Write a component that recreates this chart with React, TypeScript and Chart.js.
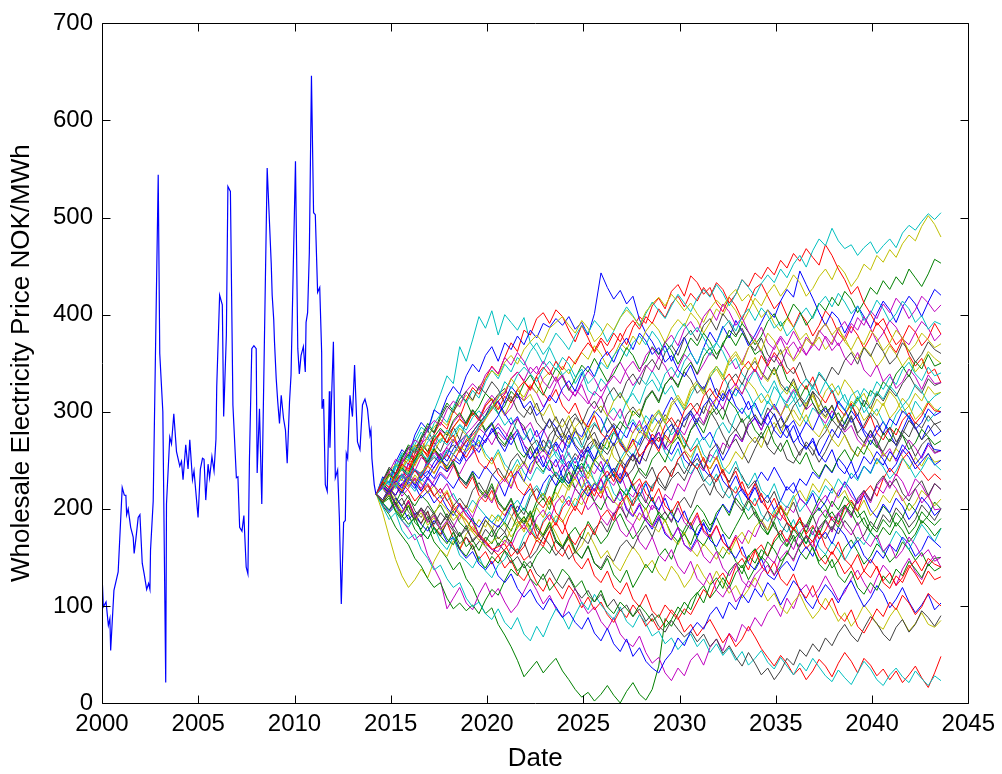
import React, { useEffect, useRef } from "react";
import { Chart, registerables } from "chart.js";

Chart.register(...registerables);

const xTicks = [2000, 2005, 2010, 2015, 2020, 2025, 2030, 2035, 2040, 2045];
const yTicks = [0, 100, 200, 300, 400, 500, 600, 700];
const xTitle = "Date";
const yTitle = "Wholesale Electricity Price NOK/MWh";

const histYears = [
  2000.0, 2000.07, 2000.21, 2000.33, 2000.41, 2000.45, 2000.62, 2000.84, 2001.05, 2001.16,
  2001.24, 2001.28, 2001.36, 2001.49, 2001.62, 2001.67, 2001.76, 2001.88, 2001.97, 2002.09,
  2002.19, 2002.32, 2002.42, 2002.49, 2002.52, 2002.66, 2002.92, 2003.0, 2003.16, 2003.31,
  2003.35, 2003.52, 2003.61, 2003.73, 2003.87, 2004.04, 2004.13, 2004.21, 2004.35, 2004.47,
  2004.56, 2004.7, 2004.78, 2004.99, 2005.11, 2005.22, 2005.3, 2005.39, 2005.51, 2005.59,
  2005.71, 2005.82, 2005.92, 2005.96, 2006.11, 2006.25, 2006.32, 2006.46, 2006.54, 2006.67,
  2006.8, 2006.98, 2007.06, 2007.15, 2007.27, 2007.37, 2007.49, 2007.58, 2007.66, 2007.78,
  2007.89, 2008.01, 2008.06, 2008.18, 2008.3, 2008.58, 2008.79, 2008.84, 2008.92, 2008.96,
  2009.05, 2009.13, 2009.22, 2009.31, 2009.43, 2009.53, 2009.62, 2009.74, 2009.82, 2010.05,
  2010.17, 2010.25, 2010.34, 2010.46, 2010.56, 2010.6, 2010.68, 2010.77, 2010.88, 2010.99,
  2011.08, 2011.2, 2011.31, 2011.41, 2011.43, 2011.51, 2011.6, 2011.7, 2011.81, 2011.84,
  2012.02, 2012.12, 2012.24, 2012.33, 2012.43, 2012.55, 2012.64, 2012.69, 2012.76, 2012.88,
  2013.01, 2013.12, 2013.27, 2013.4, 2013.53, 2013.66, 2013.79, 2013.92, 2013.97, 2014.02,
  2014.14, 2014.23,
];
const histPrices = [
  133, 99, 104, 80, 87, 54, 116, 135, 222, 214,
  214, 194, 200, 181, 171, 154, 169, 191, 194, 144,
  133, 117, 123, 117, 157, 208, 544, 360, 300, 21,
  205, 274, 267, 298, 259, 244, 249, 230, 266, 241,
  271, 230, 239, 191, 241, 252, 251, 209, 246, 232,
  254, 239, 272, 326, 420, 410, 295, 379, 532, 527,
  307, 232, 233, 181, 177, 193, 140, 133, 252, 365,
  368, 365, 237, 303, 205, 551, 453, 420, 395, 372,
  334, 310, 288, 317, 293, 281, 247, 310, 338, 558,
  365, 339, 358, 367, 341, 392, 402, 464, 646, 505,
  503, 423, 428, 361, 303, 313, 225, 218, 321, 263,
  372, 232, 240, 191, 102, 186, 188, 257, 252, 317,
  295, 348, 269, 261, 307, 313, 303, 276, 281, 252,
  225, 215,
];

const simYears = [
  2014.25, 2014.58, 2014.92, 2015.25, 2015.58, 2015.92, 2016.25, 2016.58, 2016.92, 2017.25,
  2017.58, 2017.92, 2018.25, 2018.58, 2018.92, 2019.25, 2019.58, 2019.92, 2020.25, 2020.58,
  2020.92, 2021.25, 2021.58, 2021.92, 2022.25, 2022.58, 2022.92, 2023.25, 2023.58, 2023.92,
  2024.25, 2024.58, 2024.92, 2025.25, 2025.58, 2025.92, 2026.25, 2026.58, 2026.92, 2027.25,
  2027.58, 2027.92, 2028.25, 2028.58, 2028.92, 2029.25, 2029.58, 2029.92, 2030.25, 2030.58,
  2030.92, 2031.25, 2031.58, 2031.92, 2032.25, 2032.58, 2032.92, 2033.25, 2033.58, 2033.92,
  2034.25, 2034.58, 2034.92, 2035.25, 2035.58, 2035.92, 2036.25, 2036.58, 2036.92, 2037.25,
  2037.58, 2037.92, 2038.25, 2038.58, 2038.92, 2039.25, 2039.58, 2039.92, 2040.25, 2040.58,
  2040.92, 2041.25, 2041.58, 2041.92, 2042.25, 2042.58, 2042.92, 2043.25, 2043.58,
];

const path01 = [
  215, 224, 219, 236, 229, 247, 240, 233, 251, 262, 248, 255, 271, 263, 249, 258, 276, 268, 283, 270,
  259, 274, 281, 266, 252, 261, 279, 292, 284, 270, 263, 280, 274, 289, 301, 293, 278, 286, 270, 259,
  272, 266, 283, 297, 288, 302, 315, 304, 291, 298, 284, 271, 279, 265, 250, 262, 277, 269, 286, 294,
  281, 297, 308, 296, 283, 291, 276, 262, 270, 255, 268, 282, 273, 289, 301, 292, 278, 266, 279, 290,
  277, 265, 281, 296, 284, 271, 286, 275, 280,
];
const path02 = [
  215, 206, 211, 197, 188, 194, 179, 171, 182, 166, 158, 149, 137, 145, 128, 119, 104, 92, 98, 81,
  70, 58, 44, 27, 35, 43, 31, 39, 46, 33, 24, 14, 6, 11, 2, 9, 18, 8, 0, 12,
  21, 9, 3, 14, 38, 87, 79, 92, 104, 96, 113, 121, 108, 117, 129, 118, 134, 142, 127, 139,
  151, 144, 132, 141, 155, 148, 162, 171, 159, 146, 153, 139, 147, 160, 168, 156, 143, 151, 164, 157,
  145, 152, 166, 158, 147, 155, 141, 149, 150,
];
const path03 = [
  215, 229, 238, 231, 252, 246, 263, 271, 258, 277, 289, 282, 301, 294, 312, 325, 318, 334, 347, 339,
  356, 371, 362, 384, 379, 396, 402, 391, 405, 398, 384, 372, 389, 376, 361, 373, 358, 366, 381, 369,
  387, 398, 391, 409, 417, 406, 424, 431, 419, 440, 433, 421, 428, 412, 403, 418, 409, 395, 411, 427,
  432, 419, 406, 414, 399, 387, 402, 393, 378, 389, 404, 396, 381, 373, 388, 379, 365, 377, 392, 384,
  370, 361, 375, 389, 382, 368, 376, 391, 380,
];
const path04 = [
  215, 231, 226, 244, 258, 252, 271, 284, 279, 301, 318, 337, 329, 367, 352, 374, 398, 386, 404, 379,
  400, 392, 384, 397, 371, 362, 349, 366, 352, 338, 344, 329, 341, 322, 317, 334, 326, 311, 320, 308,
  323, 336, 328, 342, 331, 318, 327, 312, 301, 316, 329, 321, 335, 347, 338, 324, 316, 330, 319, 305,
  296, 311, 302, 318, 326, 313, 299, 288, 304, 297, 283, 295, 309, 301, 317, 322, 308, 294, 303, 289,
  281, 297, 306, 293, 311, 302, 290, 298, 305,
];
const path05 = [
  215, 204, 196, 207, 188, 179, 168, 174, 152, 139, 126, 97, 108, 119, 103, 96, 112, 124, 109, 118,
  104, 93, 101, 115, 128, 116, 102, 111, 97, 88, 106, 118, 103, 92, 99, 84, 76, 88, 71, 63,
  58, 69, 52, 41, 47, 31, 23, 36, 28, 44, 51, 39, 57, 66, 54, 72, 63, 81, 74, 88,
  79, 93, 101, 89, 108, 97, 115, 122, 109, 118, 131, 119, 106, 114, 128, 137, 124, 113, 129, 142,
  134, 121, 138, 149, 135, 127, 144, 152, 140,
];
const path06 = [
  215, 196, 171, 148, 131, 119, 127, 138, 129, 146, 158, 151, 167, 159, 174, 182, 171, 189, 178, 193,
  184, 171, 180, 192, 179, 166, 174, 187, 175, 161, 169, 154, 162, 176, 163, 149, 157, 143, 136, 149,
  161, 152, 139, 147, 134, 126, 141, 132, 119, 128, 143, 131, 122, 136, 124, 113, 121, 108, 117, 129,
  118, 105, 113, 99, 92, 104, 112, 98, 87, 95, 108, 97, 84, 93, 79, 88, 101, 92, 81, 76,
  89, 98, 86, 74, 82, 93, 81, 78, 85,
];
const path07 = [
  215, 227, 241, 236, 254, 263, 249, 272, 281, 268, 259, 275, 284, 271, 290, 302, 293, 279, 288, 270,
  264, 277, 292, 285, 268, 256, 271, 262, 280, 293, 281, 266, 258, 273, 287, 279, 294, 283, 268, 257,
  249, 263, 276, 268, 284, 297, 289, 274, 262, 281, 293, 286, 301, 290, 276, 264, 272, 259, 247, 262,
  275, 266, 283, 294, 281, 268, 255, 269, 261, 248, 259, 273, 285, 276, 262, 254, 267, 281, 270, 257,
  249, 263, 276, 268, 254, 266, 273, 258, 260,
];
const path08 = [
  215, 233, 227, 248, 261, 254, 276, 289, 281, 302, 297, 315, 326, 318, 337, 349, 341, 358, 367, 352,
  371, 364, 378, 369, 384, 376, 391, 387, 396, 389, 398, 385, 392, 379, 401, 443, 428, 416, 425, 411,
  419, 395, 381, 372, 359, 368, 352, 365, 377, 361, 349, 366, 382, 371, 388, 376, 394, 383, 368, 379,
  392, 405, 397, 414, 426, 418, 445, 431, 417, 402, 389, 403, 396, 381, 394, 409, 398, 386, 401, 414,
  405, 392, 408, 419, 411, 398, 413, 426, 420,
];
const path09 = [
  215, 203, 194, 181, 172, 163, 149, 141, 128, 119, 124, 108, 97, 103, 95, 101, 92, 106, 117, 111,
  126, 138, 131, 146, 139, 152, 161, 154, 168, 159, 173, 181, 169, 187, 176, 164, 172, 186, 195, 181,
  169, 178, 191, 183, 197, 188, 174, 166, 179, 192, 204, 196, 183, 191, 177, 169, 182, 194, 208, 199,
  186, 174, 188, 201, 192, 179, 170, 183, 197, 211, 203, 189, 181, 194, 207, 198, 184, 176, 190, 203,
  195, 182, 191, 206, 198, 185, 193, 207, 200,
];
const path10 = [
  215, 207, 218, 204, 196, 209, 193, 185, 197, 181, 174, 186, 169, 158, 171, 162, 148, 156, 143, 152,
  139, 147, 133, 126, 138, 124, 115, 129, 118, 107, 121, 112, 98, 109, 96, 104, 91, 83, 96, 88,
  101, 92, 79, 87, 75, 84, 96, 88, 73, 81, 69, 78, 86, 74, 62, 71, 58, 66, 79, 68,
  56, 47, 38, 49, 41, 29, 36, 24, 33, 45, 38, 27, 41, 52, 43, 31, 46, 39, 28, 35,
  24, 33, 21, 29, 38, 26, 16, 31, 48,
];
const path11 = [
  215, 202, 189, 196, 178, 169, 174, 158, 149, 137, 142, 128, 119, 124, 108, 99, 104, 92, 86, 97,
  83, 76, 88, 71, 64, 79, 68, 84, 97, 89, 76, 91, 104, 96, 112, 101, 93, 86, 99, 84,
  78, 91, 82, 69, 74, 61, 67, 55, 63, 71, 58, 66, 52, 61, 49, 57, 44, 53, 39, 46,
  54, 42, 35, 47, 38, 29, 41, 33, 46, 37, 28, 22, 34, 26, 19, 31, 43, 35, 24, 18,
  29, 36, 27, 21, 33, 25, 18, 28, 23,
];
const path12 = [
  215, 226, 237, 231, 249, 258, 252, 267, 274, 263, 281, 276, 289, 297, 286, 301, 293, 308, 317, 309,
  296, 304, 318, 311, 326, 319, 305, 314, 329, 337, 325, 316, 331, 342, 334, 321, 329, 344, 351, 339,
  327, 336, 348, 341, 356, 347, 333, 345, 359, 352, 338, 349, 361, 355, 369, 358, 344, 351, 366, 374,
  361, 352, 367, 378, 369, 383, 371, 359, 368, 382, 391, 379, 368, 377, 391, 384, 398, 386, 372, 381,
  394, 387, 375, 369, 382, 393, 386, 373, 380,
];
const path13 = [
  215, 224, 236, 229, 243, 238, 252, 261, 255, 269, 277, 268, 284, 292, 286, 299, 291, 306, 314, 305,
  297, 311, 322, 315, 328, 319, 334, 341, 332, 347, 339, 352, 361, 354, 368, 359, 346, 357, 371, 364,
  378, 369, 383, 392, 384, 371, 386, 395, 388, 402, 394, 381, 392, 406, 399, 413, 404, 391, 403, 417,
  409, 422, 431, 419, 428, 441, 433, 419, 427, 439, 447, 436, 451, 443, 429, 438, 452, 446, 461, 454,
  467, 459, 473, 482, 476, 491, 502, 493, 480,
];
const path14 = [
  215, 209, 221, 212, 203, 214, 198, 191, 203, 194, 183, 195, 184, 172, 179, 168, 174, 161, 153, 165,
  156, 144, 151, 139, 146, 133, 127, 138, 126, 118, 129, 117, 108, 116, 104, 112, 99, 107, 95, 101,
  89, 97, 84, 92, 79, 73, 85, 76, 68, 74, 63, 71, 58, 66, 51, 59, 47, 38, 52, 41,
  29, 36, 24, 33, 46, 39, 55, 48, 61, 53, 67, 59, 72, 81, 70, 63, 77, 89, 82, 71,
  64, 78, 86, 73, 81, 95, 88, 79, 90,
];
const path15 = [
  215, 206, 198, 211, 202, 189, 196, 184, 177, 188, 179, 166, 171, 158, 149, 156, 143, 137, 146, 131,
  124, 133, 118, 109, 117, 104, 96, 108, 99, 88, 94, 83, 76, 88, 72, 64, 77, 61, 53, 66,
  48, 57, 43, 36, 31, 44, 52, 67, 59, 74, 83, 76, 91, 99, 87, 104, 96, 112, 103, 118,
  109, 124, 116, 101, 113, 126, 118, 105, 97, 111, 122, 114, 103, 117, 126, 112, 99, 108, 121, 113,
  98, 107, 119, 104, 93, 101, 112, 96, 103,
];
const path16 = [
  215, 228, 241, 236, 253, 266, 259, 274, 288, 279, 296, 309, 301, 318, 311, 296, 305, 319, 312, 298,
  306, 321, 314, 329, 338, 326, 317, 331, 345, 336, 322, 334, 348, 341, 355, 343, 331, 339, 352, 366,
  358, 344, 352, 367, 359, 372, 363, 349, 361, 376, 368, 381, 372, 359, 368, 384, 377, 391, 382, 369,
  378, 393, 401, 388, 396, 411, 403, 389, 398, 412, 404, 418, 409, 424, 416, 402, 413, 428, 421, 435,
  426, 439, 431, 447, 438, 429, 442, 457, 453,
];
const path17 = [
  215, 222, 235, 229, 246, 241, 257, 264, 253, 270, 278, 268, 284, 293, 285, 299, 291, 306, 313, 302,
  316, 309, 323, 331, 322, 337, 346, 338, 352, 343, 357, 349, 362, 371, 363, 376, 368, 381, 372, 386,
  394, 385, 398, 391, 406, 397, 411, 419, 408, 422, 414, 428, 419, 433, 426, 412, 421, 436, 429, 443,
  437, 449, 441, 456, 448, 463, 455, 468, 459, 451, 472, 461, 447, 436, 421, 429, 412, 401, 389, 396,
  381, 369, 376, 358, 347, 355, 339, 344, 330,
];
const path18 = [
  215, 231, 224, 242, 256, 249, 266, 279, 271, 288, 297, 289, 305, 318, 309, 322, 314, 331, 343, 334,
  349, 341, 356, 348, 362, 371, 359, 368, 381, 373, 364, 378, 389, 381, 394, 386, 372, 383, 397, 408,
  399, 388, 401, 413, 404, 396, 409, 421, 412, 403, 417, 426, 418, 431, 422, 409, 421, 436, 428, 419,
  432, 441, 433, 447, 438, 452, 461, 449, 466, 478, 471, 489, 476, 468, 472, 461, 469, 475, 463, 471,
  478, 469, 484, 492, 487, 496, 504, 498, 505,
];
const path19 = [
  215, 209, 218, 224, 213, 221, 232, 226, 217, 229, 238, 231, 244, 236, 249, 257, 263, 271, 279, 288,
  279, 271, 282, 266, 259, 247, 255, 241, 233, 246, 229, 221, 234, 216, 208, 219, 201, 194, 207, 189,
  183, 196, 188, 204, 197, 215, 209, 226, 218, 234, 247, 239, 256, 251, 268, 262, 277, 269, 286, 293,
  281, 298, 306, 295, 311, 323, 314, 302, 309, 296, 288, 301, 292, 279, 286, 271, 264, 277, 268, 254,
  262, 249, 258, 271, 263, 252, 266, 257, 260,
];
const path20 = [
  215, 227, 238, 246, 241, 258, 266, 259, 275, 284, 292, 286, 301, 309, 317, 311, 326, 334, 342, 337,
  351, 358, 349, 364, 372, 379, 371, 386, 392, 398, 389, 381, 394, 386, 372, 379, 391, 384, 397, 405,
  398, 389, 403, 411, 418, 409, 421, 413, 404, 412, 401, 392, 406, 415, 408, 419, 426, 414, 421, 409,
  397, 405, 391, 383, 396, 387, 374, 381, 368, 377, 364, 372, 385, 376, 363, 354, 367, 359, 346, 355,
  368, 359, 347, 356, 341, 349, 362, 355, 350,
];
const path21 = [
  215, 208, 219, 203, 196, 207, 191, 185, 198, 179, 172, 186, 177, 164, 171, 158, 166, 179, 171, 183,
  176, 191, 203, 194, 212, 221, 209, 227, 238, 229, 246, 257, 249, 266, 272, 261, 279, 288, 281, 297,
  305, 296, 314, 322, 311, 328, 336, 327, 341, 333, 319, 326, 309, 297, 305, 289, 281, 293, 276, 268,
  279, 263, 256, 268, 251, 247, 259, 266, 255, 271, 279, 292, 284, 298, 307, 296, 312, 303, 319, 311,
  324, 316, 329, 338, 326, 319, 334, 327, 330,
];
const path22 = [
  215, 221, 212, 226, 219, 233, 241, 229, 236, 248, 257, 249, 262, 271, 264, 279, 288, 296, 305, 311,
  298, 287, 295, 278, 269, 281, 263, 256, 267, 249, 241, 253, 236, 228, 219, 231, 214, 206, 218, 199,
  192, 204, 188, 179, 191, 174, 168, 181, 163, 158, 171, 184, 176, 192, 205, 196, 213, 221, 209, 226,
  238, 229, 243, 231, 219, 227, 211, 204, 216, 198, 207, 221, 213, 228, 219, 206, 214, 199, 191, 205,
  196, 211, 203, 189, 198, 212, 204, 193, 200,
];
const path23 = [
  215, 222, 214, 206, 219, 211, 203, 214, 207, 196, 204, 191, 198, 186, 179, 191, 172, 166, 178, 162,
  172, 166, 184, 192, 181, 203, 211, 199, 222, 234, 226, 245, 238, 256, 249, 268, 261, 279, 290, 282,
  301, 294, 312, 321, 309, 328, 336, 325, 343, 351, 339, 357, 366, 354, 371, 379, 368, 381, 372, 359,
  364, 347, 338, 351, 333, 326, 314, 327, 309, 298, 306, 291, 299, 287, 302, 314, 305, 322, 316, 331,
  324, 339, 347, 336, 352, 344, 359, 347, 350,
];
const path24 = [
  215, 224, 218, 233, 241, 229, 247, 256, 244, 261, 252, 238, 246, 229, 221, 233, 214, 207, 219, 201,
  193, 205, 188, 179, 191, 172, 164, 177, 158, 151, 163, 146, 138, 149, 131, 124, 136, 119, 112, 124,
  107, 99, 112, 95, 88, 101, 93, 86, 97, 91, 104, 117, 109, 126, 134, 122, 141, 149, 137, 156,
  163, 151, 169, 178, 166, 181, 172, 159, 167, 151, 143, 156, 146, 133, 141, 127, 136, 148, 139, 126,
  134, 121, 129, 142, 133, 122, 136, 127, 130,
];
const path25 = [
  215, 207, 196, 203, 188, 181, 192, 176, 169, 181, 166, 158, 171, 152, 146, 139, 151, 136, 129, 142,
  148, 161, 155, 172, 181, 169, 188, 197, 186, 204, 213, 202, 221, 229, 218, 236, 245, 233, 251, 262,
  254, 271, 279, 266, 274, 258, 249, 262, 243, 236, 247, 231, 224, 236, 219, 211, 223, 206, 198, 211,
  194, 187, 199, 183, 176, 189, 171, 164, 177, 160, 153, 166, 158, 147, 159, 171, 163, 176, 168, 155,
  164, 177, 169, 158, 171, 184, 175, 166, 180,
];
const path26 = [
  215, 228, 221, 237, 232, 246, 239, 253, 247, 258, 251, 264, 272, 261, 276, 268, 283, 277, 266, 279,
  271, 286, 293, 281, 289, 274, 282, 268, 259, 271, 255, 247, 261, 243, 236, 249, 231, 224, 237, 219,
  212, 226, 208, 199, 213, 196, 188, 201, 186, 179, 193, 176, 169, 182, 166, 159, 173, 164, 178, 171,
  186, 178, 194, 188, 203, 196, 211, 204, 193, 206, 214, 202, 218, 226, 213, 205, 219, 209, 223, 216,
  229, 221, 208, 216, 231, 224, 212, 226, 220,
];
const path27 = [
  215, 206, 218, 209, 197, 204, 191, 199, 186, 194, 207, 199, 188, 196, 183, 176, 189, 181, 194, 187,
  201, 193, 181, 189, 176, 184, 172, 181, 193, 186, 199, 211, 204, 219, 227, 216, 233, 241, 229, 247,
  256, 248, 263, 271, 262, 279, 287, 276, 294, 301, 289, 306, 298, 314, 322, 311, 326, 319, 331, 323,
  309, 318, 304, 296, 308, 293, 285, 297, 281, 274, 287, 272, 264, 276, 261, 254, 267, 259, 246, 258,
  249, 262, 254, 241, 253, 244, 257, 248, 250,
];
const path28 = [
  215, 223, 216, 229, 236, 228, 241, 234, 246, 253, 247, 259, 266, 258, 271, 279, 288, 296, 309, 318,
  324, 311, 319, 304, 297, 309, 291, 283, 295, 279, 271, 283, 266, 258, 271, 253, 246, 238, 251, 233,
  241, 256, 249, 266, 274, 263, 281, 292, 284, 301, 309, 298, 316, 324, 313, 331, 339, 328, 344, 352,
  341, 333, 346, 329, 321, 334, 316, 308, 321, 303, 295, 307, 289, 281, 294, 276, 268, 281, 264, 259,
  272, 266, 281, 274, 289, 283, 296, 287, 290,
];
const path29 = [
  215, 221, 213, 227, 219, 232, 224, 211, 218, 206, 214, 201, 193, 205, 197, 188, 181, 192, 186, 181,
  191, 204, 197, 213, 221, 209, 226, 235, 224, 241, 249, 238, 256, 264, 251, 268, 276, 265, 281, 273,
  289, 278, 286, 271, 279, 264, 256, 269, 251, 244, 257, 241, 233, 246, 229, 221, 234, 218, 209, 222,
  206, 214, 199, 208, 223, 216, 231, 224, 238, 231, 245, 237, 252, 244, 231, 239, 254, 246, 259, 251,
  238, 246, 261, 253, 241, 249, 257, 245, 250,
];
const path30 = [
  215, 224, 236, 229, 247, 256, 248, 266, 259, 274, 283, 276, 291, 299, 288, 302, 294, 281, 289, 274,
  266, 279, 261, 253, 264, 247, 238, 251, 233, 226, 238, 221, 212, 224, 207, 199, 213, 206, 221, 214,
  229, 242, 234, 251, 259, 248, 266, 274, 263, 281, 289, 278, 296, 304, 292, 311, 303, 289, 296, 281,
  273, 286, 268, 259, 271, 254, 246, 258, 241, 233, 246, 238, 252, 261, 249, 264, 256, 271, 263, 278,
  269, 283, 276, 261, 268, 282, 274, 266, 270,
];
const path31 = [
  215, 223, 217, 228, 236, 224, 231, 219, 226, 214, 206, 217, 201, 194, 188, 179, 171, 166, 158, 161,
  164, 151, 159, 147, 153, 168, 161, 177, 186, 174, 192, 203, 194, 212, 221, 211, 229, 238, 227, 244,
  256, 246, 263, 271, 259, 276, 268, 281, 272, 259, 266, 249, 241, 253, 236, 228, 239, 221, 214, 226,
  208, 199, 211, 194, 186, 179, 191, 174, 183, 169, 178, 192, 184, 201, 209, 198, 216, 224, 213, 231,
  242, 234, 251, 259, 246, 238, 229, 236, 230,
];
const path32 = [
  215, 226, 233, 245, 239, 252, 263, 257, 269, 276, 268, 281, 274, 286, 278, 265, 271, 257, 249, 261,
  246, 239, 251, 237, 229, 243, 236, 251, 259, 248, 266, 274, 263, 281, 289, 278, 296, 304, 293, 311,
  319, 308, 326, 333, 321, 339, 346, 335, 352, 361, 349, 366, 358, 371, 362, 348, 355, 339, 331, 344,
  328, 319, 332, 316, 309, 321, 305, 313, 326, 317, 331, 322, 309, 318, 302, 311, 324, 316, 331, 323,
  336, 328, 343, 351, 339, 332, 346, 337, 340,
];
const path33 = [
  215, 229, 238, 251, 246, 262, 271, 266, 283, 291, 286, 302, 311, 305, 321, 329, 322, 338, 346, 339,
  356, 348, 361, 352, 339, 347, 331, 324, 336, 319, 311, 323, 316, 308, 321, 314, 328, 337, 329, 344,
  352, 341, 358, 366, 355, 371, 379, 368, 385, 393, 382, 398, 406, 394, 411, 403, 389, 397, 382, 374,
  387, 371, 364, 376, 361, 354, 367, 358, 371, 363, 378, 369, 385, 393, 381, 397, 389, 404, 396, 411,
  402, 417, 409, 396, 405, 419, 412, 403, 410,
];
const path34 = [
  215, 206, 214, 199, 192, 204, 188, 196, 183, 191, 178, 186, 197, 189, 204, 196, 211, 219, 208, 226,
  234, 223, 241, 249, 238, 256, 264, 253, 271, 278, 267, 284, 292, 281, 299, 306, 295, 311, 319, 308,
  296, 303, 288, 279, 291, 273, 266, 279, 261, 253, 266, 249, 241, 254, 238, 246, 259, 251, 266, 274,
  263, 281, 289, 277, 294, 302, 291, 308, 316, 305, 321, 329, 317, 333, 324, 311, 319, 304, 296, 309,
  293, 301, 314, 306, 292, 299, 311, 303, 300,
];
const path35 = [
  215, 226, 219, 234, 241, 233, 249, 256, 247, 262, 253, 241, 247, 232, 224, 236, 219, 211, 223, 206,
  198, 209, 192, 184, 196, 178, 171, 183, 166, 159, 171, 156, 149, 161, 144, 139, 152, 146, 161, 168,
  159, 174, 183, 171, 189, 197, 186, 204, 212, 201, 219, 226, 214, 231, 239, 227, 243, 234, 221, 229,
  213, 206, 218, 201, 194, 207, 189, 181, 193, 176, 169, 182, 174, 188, 179, 166, 173, 187, 179, 194,
  186, 201, 193, 181, 189, 204, 196, 188, 200,
];
const path36 = [
  215, 209, 217, 224, 216, 228, 221, 233, 239, 231, 244, 238, 251, 246, 259, 266, 258, 271, 279, 284,
  274, 266, 278, 259, 251, 263, 246, 239, 251, 233, 226, 238, 221, 213, 226, 219, 234, 242, 231, 248,
  257, 246, 264, 273, 262, 279, 287, 276, 293, 301, 289, 306, 314, 303, 319, 311, 324, 316, 302, 309,
  294, 286, 298, 281, 273, 286, 268, 261, 273, 256, 248, 261, 243, 236, 249, 231, 244, 237, 252, 245,
  259, 251, 266, 258, 246, 254, 268, 261, 260,
];
const path37 = [
  215, 206, 214, 198, 191, 203, 186, 179, 192, 174, 182, 169, 163, 176, 161, 168, 157, 171, 164, 178,
  186, 177, 193, 201, 191, 208, 216, 205, 223, 231, 222, 239, 247, 236, 251, 243, 229, 236, 221, 213,
  226, 208, 199, 212, 194, 187, 199, 181, 174, 186, 169, 162, 174, 157, 149, 161, 146, 139, 152, 144,
  158, 151, 166, 174, 162, 179, 187, 176, 193, 201, 191, 208, 199, 213, 204, 191, 198, 183, 176, 189,
  181, 196, 188, 174, 182, 197, 189, 183, 190,
];
const path38 = [
  215, 208, 219, 226, 218, 231, 239, 232, 244, 237, 249, 256, 248, 261, 269, 276, 284, 293, 302, 311,
  318, 334, 341, 331, 324, 336, 319, 311, 323, 306, 298, 309, 292, 284, 296, 278, 271, 283, 266, 258,
  271, 254, 262, 277, 269, 286, 294, 283, 301, 309, 298, 316, 324, 313, 331, 339, 327, 344, 352, 341,
  358, 347, 361, 352, 339, 346, 331, 323, 336, 318, 309, 322, 304, 296, 309, 291, 283, 296, 278, 271,
  284, 276, 291, 299, 288, 296, 309, 301, 300,
];
const path39 = [
  215, 222, 229, 221, 234, 226, 218, 231, 224, 213, 221, 208, 216, 203, 197, 209, 201, 193, 186, 194,
  186, 201, 209, 198, 216, 224, 213, 231, 238, 227, 244, 252, 241, 258, 266, 255, 271, 279, 268, 284,
  292, 281, 296, 288, 301, 289, 276, 284, 268, 261, 273, 256, 248, 261, 243, 236, 249, 231, 224, 237,
  219, 212, 226, 208, 201, 214, 197, 206, 219, 211, 224, 216, 231, 222, 237, 229, 244, 236, 251, 243,
  231, 239, 252, 244, 232, 241, 253, 246, 240,
];
const path40 = [
  215, 222, 214, 227, 235, 228, 241, 236, 248, 242, 255, 263, 256, 269, 277, 284, 292, 301, 309, 316,
  319, 334, 341, 332, 346, 339, 352, 343, 331, 338, 323, 316, 328, 311, 303, 316, 298, 291, 303, 286,
  278, 291, 273, 266, 279, 261, 269, 284, 276, 291, 299, 288, 306, 314, 303, 321, 329, 318, 336, 344,
  333, 351, 358, 347, 364, 372, 361, 377, 369, 384, 376, 363, 371, 356, 348, 361, 343, 336, 348, 331,
  339, 324, 331, 344, 336, 323, 338, 329, 330,
];
const path41 = [
  215, 221, 213, 224, 231, 222, 235, 227, 216, 224, 211, 219, 204, 196, 189, 176, 168, 161, 166, 171,
  164, 179, 187, 176, 194, 201, 191, 209, 217, 206, 224, 231, 221, 238, 229, 216, 223, 208, 201, 213,
  196, 188, 201, 183, 176, 189, 171, 163, 176, 159, 151, 164, 156, 148, 161, 153, 168, 176, 164, 181,
  189, 178, 196, 204, 193, 211, 219, 208, 226, 217, 231, 223, 211, 219, 204, 197, 209, 193, 201, 214,
  206, 219, 211, 198, 206, 219, 212, 203, 210,
];
const path42 = [
  215, 229, 243, 236, 251, 264, 257, 272, 285, 278, 293, 306, 299, 313, 321, 312, 326, 319, 331, 323,
  309, 316, 301, 294, 306, 289, 281, 293, 276, 269, 281, 294, 287, 303, 311, 299, 316, 325, 314, 331,
  339, 328, 346, 354, 343, 361, 369, 358, 376, 384, 373, 389, 396, 384, 401, 392, 379, 386, 371, 363,
  376, 359, 351, 364, 346, 339, 351, 334, 326, 339, 331, 346, 338, 353, 361, 349, 366, 357, 371, 362,
  349, 356, 371, 363, 351, 359, 372, 364, 360,
];
const path43 = [
  215, 223, 216, 229, 221, 234, 226, 218, 231, 223, 236, 229, 221, 233, 226, 239, 231, 244, 236, 228,
  213, 231, 239, 228, 246, 254, 243, 261, 269, 258, 276, 264, 253, 261, 246, 238, 251, 233, 226, 238,
  221, 213, 226, 208, 199, 211, 194, 186, 198, 181, 173, 186, 168, 161, 174, 157, 149, 161, 144, 137,
  149, 132, 127, 139, 146, 136, 152, 161, 151, 168, 176, 164, 181, 173, 159, 167, 152, 144, 157, 149,
  163, 156, 171, 164, 151, 158, 172, 166, 160,
];
const path44 = [
  215, 226, 219, 234, 242, 236, 251, 259, 248, 262, 254, 241, 249, 233, 226, 238, 221, 213, 226, 208,
  199, 211, 194, 186, 198, 181, 173, 186, 168, 161, 174, 157, 149, 162, 144, 137, 149, 132, 124, 137,
  119, 131, 143, 134, 151, 159, 148, 166, 174, 163, 181, 189, 178, 196, 204, 193, 211, 202, 189, 197,
  181, 173, 186, 168, 161, 173, 156, 148, 161, 143, 136, 148, 131, 124, 136, 119, 112, 124, 116, 131,
  123, 138, 131, 146, 138, 129, 143, 136, 140,
];
const path45 = [
  215, 209, 221, 214, 226, 219, 208, 216, 224, 213, 221, 209, 198, 206, 193, 186, 174, 167, 159, 152,
  158, 166, 153, 161, 176, 169, 186, 194, 183, 201, 209, 198, 216, 224, 213, 231, 239, 228, 246, 237,
  224, 231, 216, 208, 221, 203, 196, 208, 191, 183, 196, 178, 171, 183, 166, 158, 171, 153, 146, 158,
  141, 133, 146, 128, 121, 133, 116, 108, 121, 103, 96, 108, 91, 84, 96, 79, 72, 84, 97, 89,
  104, 96, 111, 103, 91, 99, 113, 106, 100,
];
const path46 = [
  215, 224, 219, 233, 241, 234, 249, 257, 251, 264, 272, 266, 279, 287, 281, 294, 301, 293, 306, 298,
  286, 294, 279, 271, 283, 266, 259, 271, 254, 246, 258, 241, 233, 246, 228, 221, 233, 216, 208, 221,
  204, 213, 228, 221, 236, 244, 233, 251, 259, 248, 266, 274, 263, 281, 289, 278, 296, 304, 293, 311,
  319, 308, 326, 317, 304, 312, 326, 334, 323, 341, 332, 319, 327, 311, 304, 316, 299, 308, 321, 313,
  327, 319, 306, 314, 328, 321, 309, 316, 320,
];
const path47 = [
  215, 224, 218, 231, 223, 236, 229, 221, 233, 224, 216, 226, 211, 203, 194, 186, 173, 164, 158, 156,
  168, 161, 176, 184, 173, 191, 199, 188, 206, 214, 203, 221, 212, 199, 207, 191, 183, 196, 178, 171,
  183, 166, 158, 171, 153, 146, 158, 141, 133, 146, 128, 121, 134, 116, 109, 121, 104, 112, 126, 119,
  134, 142, 131, 149, 157, 146, 164, 172, 161, 179, 187, 176, 194, 202, 191, 209, 217, 206, 224, 232,
  221, 236, 228, 213, 221, 206, 214, 199, 200,
];
const path48 = [
  215, 221, 234, 229, 243, 251, 244, 259, 266, 258, 271, 279, 268, 283, 276, 261, 269, 253, 246, 258,
  241, 233, 246, 228, 221, 209, 216, 204, 211, 226, 219, 234, 242, 231, 249, 257, 246, 264, 272, 261,
  279, 287, 276, 294, 302, 291, 309, 317, 306, 324, 332, 321, 339, 347, 336, 354, 362, 351, 343, 356,
  339, 331, 344, 326, 318, 331, 313, 306, 318, 301, 293, 306, 289, 296, 311, 304, 291, 299, 313, 306,
  321, 313, 299, 306, 319, 311, 326, 318, 320,
];
const path49 = [
  215, 209, 219, 204, 196, 207, 193, 201, 188, 196, 184, 192, 179, 171, 183, 166, 174, 188, 181, 169,
  176, 161, 154, 166, 149, 157, 171, 163, 152, 161, 148, 156, 171, 164, 179, 187, 176, 194, 202, 191,
  209, 217, 206, 224, 232, 221, 239, 247, 236, 249, 241, 228, 236, 219, 211, 224, 206, 198, 211, 193,
  186, 198, 181, 173, 186, 168, 161, 173, 166, 181, 189, 178, 196, 204, 193, 211, 219, 208, 226, 234,
  223, 231, 216, 208, 221, 229, 214, 226, 220,
];
const path50 = [
  215, 209, 221, 214, 226, 233, 224, 238, 231, 243, 251, 244, 256, 249, 263, 271, 264, 279, 287, 296,
  311, 326, 318, 304, 311, 296, 303, 317, 309, 324, 332, 321, 339, 347, 336, 354, 362, 351, 367, 376,
  364, 381, 373, 359, 366, 351, 358, 343, 336, 348, 331, 323, 336, 318, 311, 323, 306, 298, 311, 293,
  286, 298, 281, 273, 286, 268, 276, 289, 281, 296, 304, 293, 311, 302, 289, 297, 281, 273, 286, 278,
  293, 286, 301, 294, 282, 289, 303, 296, 300,
];
const path51 = [
  215, 206, 199, 207, 193, 184, 191, 177, 169, 181, 172, 164, 176, 159, 151, 163, 146, 139, 151, 144,
  157, 149, 136, 143, 128, 121, 133, 116, 124, 138, 131, 119, 126, 111, 104, 116, 99, 92, 104, 97,
  89, 101, 93, 84, 91, 78, 86, 99, 91, 106, 114, 103, 121, 129, 118, 136, 144, 133, 151, 159,
  148, 166, 158, 146, 153, 168, 176, 164, 181, 173, 189, 197, 186, 204, 196, 183, 191, 176, 169, 181,
  173, 186, 178, 166, 174, 188, 181, 172, 180,
];
const path52 = [
  215, 228, 222, 237, 246, 239, 254, 262, 256, 271, 279, 268, 276, 261, 253, 265, 248, 241, 253, 236,
  228, 239, 221, 214, 226, 208, 201, 213, 196, 188, 171, 163, 176, 184, 173, 191, 199, 188, 206, 214,
  203, 221, 229, 218, 236, 244, 233, 251, 259, 248, 241, 253, 236, 228, 241, 223, 216, 228, 211, 203,
  216, 198, 191, 203, 186, 178, 191, 173, 166, 178, 161, 153, 166, 148, 141, 153, 136, 129, 141, 124,
  118, 131, 124, 139, 147, 136, 149, 143, 140,
];
const path53 = [
  215, 221, 229, 223, 236, 229, 241, 234, 247, 255, 248, 261, 256, 268, 276, 271, 286, 294, 303, 314,
  331, 324, 338, 346, 339, 331, 344, 352, 343, 356, 349, 336, 344, 329, 336, 351, 344, 358, 366, 357,
  371, 378, 369, 383, 374, 361, 368, 382, 391, 379, 387, 376, 364, 371, 386, 394, 383, 398, 406, 394,
  407, 399, 386, 393, 378, 386, 399, 407, 396, 411, 419, 408, 422, 413, 401, 409, 394, 401, 415, 406,
  393, 401, 414, 406, 392, 399, 385, 393, 390,
];
const path54 = [
  215, 207, 218, 203, 196, 208, 191, 199, 186, 193, 179, 188, 181, 194, 202, 191, 208, 216, 206, 223,
  231, 221, 238, 246, 236, 253, 261, 251, 243, 256, 239, 231, 244, 226, 218, 231, 213, 206, 218, 201,
  193, 206, 188, 181, 193, 176, 168, 181, 163, 156, 168, 151, 144, 156, 139, 131, 144, 126, 119, 132,
  139, 151, 144, 161, 169, 158, 176, 184, 173, 191, 199, 188, 196, 181, 173, 186, 168, 161, 173, 156,
  164, 149, 157, 171, 163, 151, 158, 146, 150,
];
const path55 = [
  215, 208, 219, 227, 219, 233, 226, 238, 245, 236, 249, 243, 256, 264, 259, 273, 281, 292, 304, 316,
  321, 334, 326, 311, 318, 303, 296, 308, 291, 284, 296, 279, 271, 283, 266, 258, 271, 253, 246, 258,
  266, 281, 273, 291, 299, 288, 306, 314, 303, 321, 329, 318, 336, 344, 333, 351, 359, 348, 366, 374,
  363, 381, 373, 359, 367, 352, 361, 375, 368, 383, 391, 379, 387, 372, 364, 377, 369, 384, 376, 363,
  371, 384, 376, 362, 369, 381, 374, 366, 370,
];
const path56 = [
  215, 207, 219, 204, 211, 197, 189, 201, 193, 184, 196, 188, 203, 211, 201, 219, 227, 216, 234, 242,
  231, 249, 257, 246, 264, 271, 259, 276, 284, 273, 291, 298, 286, 271, 279, 263, 256, 268, 251, 243,
  256, 238, 231, 243, 226, 219, 231, 238, 229, 244, 252, 241, 259, 267, 256, 274, 282, 271, 289, 297,
  286, 304, 296, 283, 291, 306, 314, 303, 321, 313, 299, 306, 291, 283, 296, 278, 286, 299, 291, 276,
  284, 269, 277, 291, 283, 271, 279, 288, 280,
];

const simPaths = [
  path01, path02, path03, path04, path05, path06, path07, path08, path09, path10,
  path11, path12, path13, path14, path15, path16, path17, path18, path19, path20,
  path21, path22, path23, path24, path25, path26, path27, path28, path29, path30,
  path31, path32, path33, path34, path35, path36, path37, path38, path39, path40,
  path41, path42, path43, path44, path45, path46, path47, path48, path49, path50,
  path51, path52, path53, path54, path55, path56,
];

const matlabColors = ["#0000FF", "#008000", "#FF0000", "#00BFBF", "#BF00BF", "#BFBF00", "#404040"];
const FONT = "'Liberation Sans', Arial, Helvetica, sans-serif";

const boxTicks = {
  id: "boxTicks",
  afterDraw(chart: any) {
    const { ctx, chartArea } = chart;
    const xs = chart.scales.x;
    const ys = chart.scales.y;
    const L = Math.round(chartArea.left) + 0.5;
    const R = Math.round(chartArea.right) + 0.5;
    const T = Math.round(chartArea.top) + 0.5;
    const B = Math.round(chartArea.bottom) + 0.5;
    const len = 8;
    ctx.save();
    ctx.strokeStyle = "#000";
    ctx.lineWidth = 1;
    ctx.beginPath();
    ctx.rect(L, T, R - L, B - T);
    xTicks.forEach((v) => {
      const px = Math.round(xs.getPixelForValue(v)) + 0.5;
      ctx.moveTo(px, B);
      ctx.lineTo(px, B - len);
      ctx.moveTo(px, T);
      ctx.lineTo(px, T + len);
    });
    yTicks.forEach((v) => {
      const py = Math.round(ys.getPixelForValue(v)) + 0.5;
      ctx.moveTo(L, py);
      ctx.lineTo(L + len, py);
      ctx.moveTo(R, py);
      ctx.lineTo(R - len, py);
    });
    ctx.stroke();
    ctx.restore();
  },
};

export default function App() {
  const canvasRef = useRef<HTMLCanvasElement | null>(null);

  useEffect(() => {
    const canvas = canvasRef.current;
    if (!canvas) return;

    const simDatasets = simPaths.map((p, i) => ({
      label: "sim" + (i + 1),
      data: simYears.map((yr, k) => ({ x: yr, y: p[k] })),
      borderColor: matlabColors[i % 7],
      backgroundColor: matlabColors[i % 7],
      borderWidth: 1,
      pointRadius: 0,
      tension: 0,
      fill: false,
      order: simPaths.length - i,
    }));

    const histDataset = {
      label: "history",
      data: histYears.map((yr, k) => ({ x: yr, y: histPrices[k] })),
      borderColor: "#0000FF",
      backgroundColor: "#0000FF",
      borderWidth: 1.2,
      pointRadius: 0,
      tension: 0,
      fill: false,
      order: 100,
    };

    const tickFont = { family: FONT, size: 24 };
    const titleFont = { family: FONT, size: 26 };

    const chart = new Chart(canvas, {
      type: "line",
      data: { datasets: [histDataset, ...simDatasets] as any },
      options: {
        animation: false,
        responsive: false,
        devicePixelRatio: 1,
        parsing: false,
        normalized: true,
        layout: { padding: { top: 19, right: 31, left: 0, bottom: 0 } },
        plugins: { legend: { display: false }, tooltip: { enabled: false } },
        events: [],
        scales: {
          x: {
            type: "linear",
            min: 2000,
            max: 2045,
            afterBuildTicks: (s: any) => {
              s.ticks = xTicks.map((v) => ({ value: v }));
            },
            afterFit: (s: any) => {
              s.height = 71;
            },
            ticks: {
              color: "#000",
              font: tickFont,
              padding: 7,
              maxRotation: 0,
              autoSkip: false,
              callback: (v: any) => String(v),
            },
            grid: { display: false, drawTicks: false },
            border: { display: false },
            title: {
              display: true,
              text: xTitle,
              color: "#000",
              font: titleFont,
              padding: { top: 0, bottom: 0 },
            },
          },
          y: {
            type: "linear",
            min: 0,
            max: 700,
            afterBuildTicks: (s: any) => {
              s.ticks = yTicks.map((v) => ({ value: v }));
            },
            afterFit: (s: any) => {
              s.width = 102;
            },
            ticks: {
              color: "#000",
              font: tickFont,
              padding: 9,
              autoSkip: false,
              callback: (v: any) => String(v),
            },
            grid: { display: false, drawTicks: false },
            border: { display: false },
            title: {
              display: true,
              text: yTitle,
              color: "#000",
              font: titleFont,
              padding: { top: 6, bottom: 0 },
            },
          },
        },
      },
      plugins: [boxTicks],
    });

    return () => chart.destroy();
  }, []);

  return (
    <div style={{ position: "absolute", left: 0, top: 0, width: 1002, height: 774, background: "#fff" }}>
      <canvas ref={canvasRef} width={1002} height={774} />
    </div>
  );
}
